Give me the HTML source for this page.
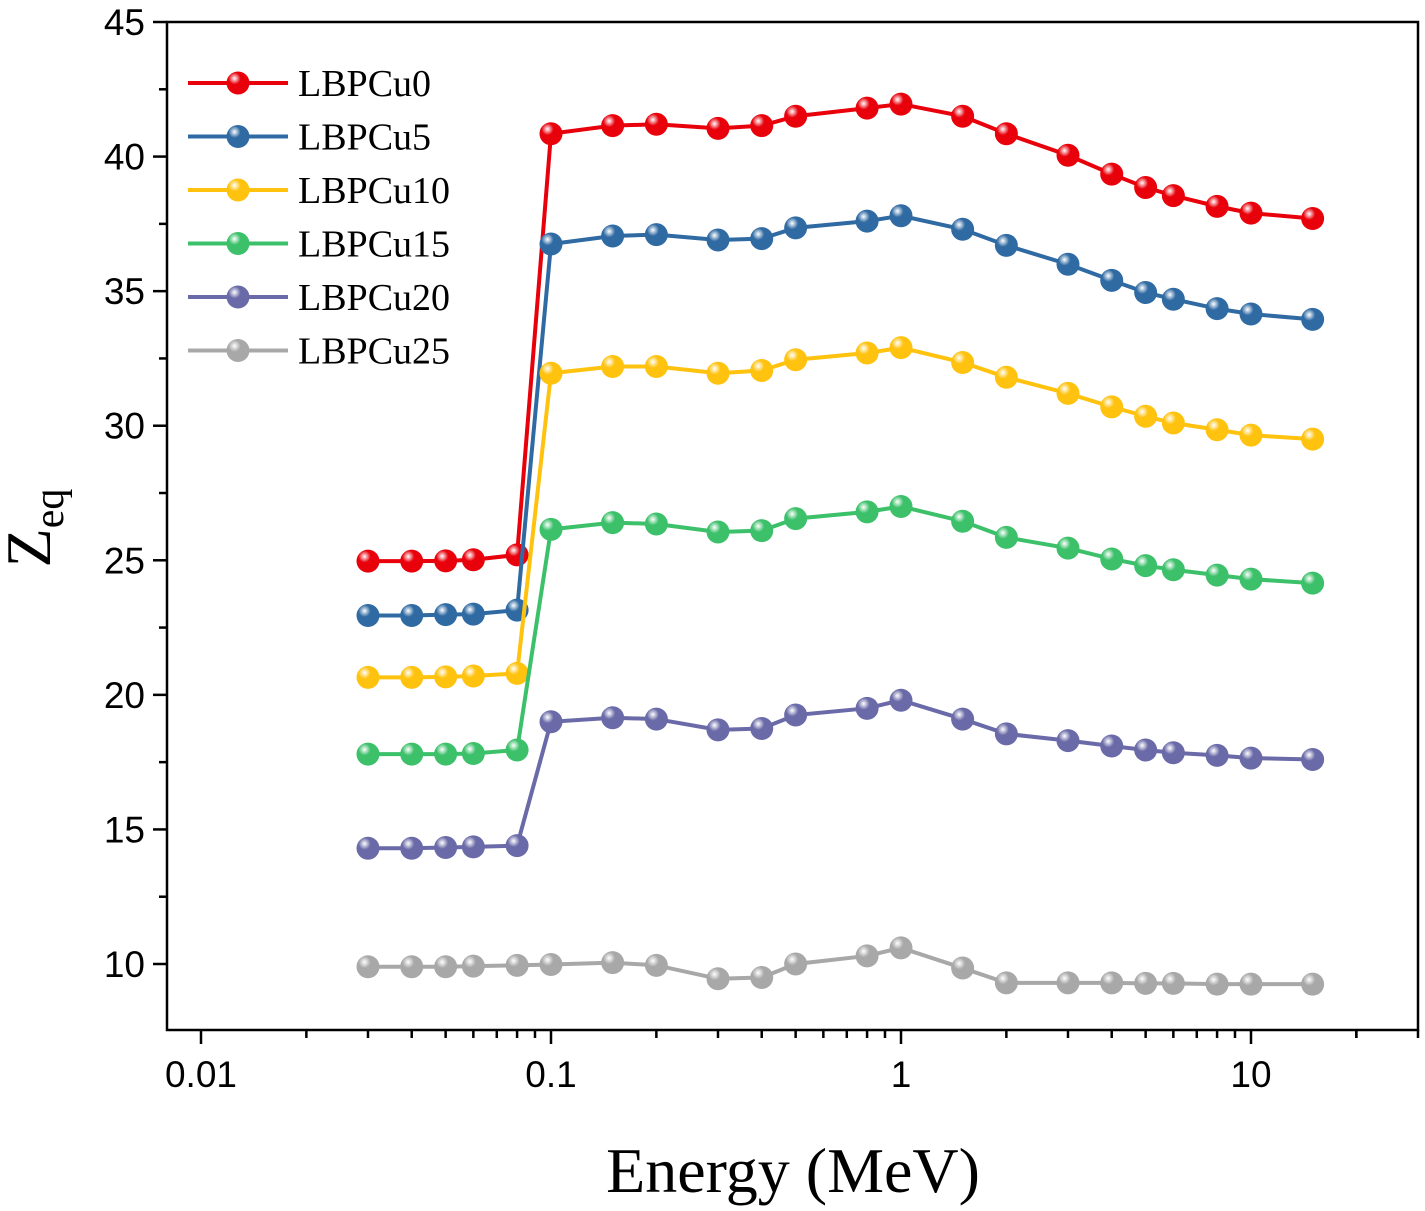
<!DOCTYPE html>
<html><head><meta charset="utf-8"><style>
body{margin:0;background:#fff}
svg{display:block}
.tk{font-family:"Liberation Sans",sans-serif;font-size:37px;fill:#000}
.lg{font-family:"Liberation Serif",serif;font-size:38px;fill:#000}
</style></head><body>
<svg id="chart" width="1425" height="1211" xmlns="http://www.w3.org/2000/svg">
<defs>
</defs>
</svg>
<script>
const energies=[0.03,0.04,0.05,0.06,0.08,0.1,0.15,0.2,0.3,0.4,0.5,0.8,1,1.5,2,3,4,5,6,8,10,15];
const seriesNames=["LBPCu0","LBPCu5","LBPCu10","LBPCu15","LBPCu20","LBPCu25"];
const cu0=[24.97,24.97,24.98,25.02,25.2,40.85,41.15,41.2,41.05,41.15,41.5,41.8,41.95,41.5,40.85,40.05,39.35,38.85,38.55,38.15,37.9,37.7];
const cu5=[22.95,22.95,22.98,23.0,23.15,36.75,37.05,37.1,36.9,36.95,37.35,37.6,37.8,37.3,36.7,36.0,35.4,34.95,34.7,34.35,34.15,33.95];
const cu10=[20.65,20.65,20.67,20.7,20.8,31.95,32.2,32.2,31.95,32.05,32.45,32.7,32.9,32.35,31.8,31.2,30.7,30.35,30.1,29.85,29.65,29.5];
const cu15=[17.8,17.8,17.8,17.82,17.95,26.15,26.4,26.35,26.05,26.1,26.55,26.8,27.0,26.45,25.85,25.45,25.05,24.8,24.65,24.45,24.3,24.15];
const cu20=[14.3,14.3,14.33,14.35,14.4,19.0,19.15,19.1,18.7,18.75,19.25,19.5,19.8,19.1,18.55,18.3,18.1,17.95,17.85,17.75,17.65,17.6];
const cu25=[9.9,9.9,9.9,9.92,9.95,9.98,10.05,9.95,9.45,9.5,10.0,10.3,10.6,9.85,9.3,9.3,9.3,9.28,9.28,9.25,9.25,9.25];
const yTicks=[10,15,20,25,30,35,40,45];
const xTicks=[0.01,0.1,1,10];
const xTickLabels=["0.01","0.1","1","10"];

const colors=["#e8000b","#2f6aa3","#ffc20e","#3cc06a","#6a6aa8","#a8a8a8"];
const allSeries=[cu0,cu5,cu10,cu15,cu20,cu25];
const L=167,R=1418,T=22,B=1030;
const X=v=>551+350*Math.log10(v/0.1);
const Y=v=>964-(v-10)*26.914;
const svg=document.getElementById('chart');
const defs=svg.querySelector('defs');
const NS="http://www.w3.org/2000/svg";
function mk(tag,attrs,parent){const e=document.createElementNS(NS,tag);for(const k in attrs)e.setAttribute(k,attrs[k]);(parent||svg).appendChild(e);return e;}
colors.forEach((c,i)=>{const g=mk('radialGradient',{id:'g'+i,cx:'0.35',cy:'0.3',r:'0.75'},defs);
mk('stop',{offset:'0','stop-color':'#fff'},g);mk('stop',{offset:'0.35','stop-color':c},g);mk('stop',{offset:'1','stop-color':c},g);});
const frame=mk('rect',{x:L,y:T,width:R-L,height:B-T,fill:'none',stroke:'#000','stroke-width':2.5});


for(let v=7.5;v<=45.01;v+=2.5){const y=Y(v);if(y>B)continue;const major=(v%5===0);
const t=mk('line',{x1:L,x2:L-(major?14:8),y1:y,y2:y,stroke:'#000','stroke-width':2.5});
}
yTicks.forEach(v=>{const t=mk('text',{x:L-22,y:Y(v)+13,'text-anchor':'end',class:'tk'});t.textContent=v;
});
for(let d=0.01;d<=10;d*=10){for(let m=1;m<=9;m++){const v=d*m;const x=X(v);if(x<L||x>R)continue;
const t=mk('line',{x1:x,x2:x,y1:B,y2:B+(m===1?14:8),stroke:'#000','stroke-width':2.5});
}}
{const x=X(20);const t=mk('line',{x1:x,x2:x,y1:B,y2:B+8,stroke:'#000','stroke-width':2.5});}
xTicks.forEach((v,i)=>{const t=mk('text',{x:X(v),y:B+57,'text-anchor':'middle',class:'tk'});t.textContent=xTickLabels[i];
});
const xt=mk('text',{x:793,y:1192,'text-anchor':'middle','font-family':'Liberation Serif,serif','font-size':64});xt.textContent='Energy (MeV)';

const yt=mk('text',{transform:'translate(50,528) rotate(-90)','text-anchor':'middle','font-family':'Liberation Serif,serif','font-size':64});
yt.innerHTML='Z<tspan font-size="42" dy="13">eq</tspan>';

allSeries.forEach((s,i)=>{const g=mk('g',{});
const pl=mk('polyline',{points:energies.map((e,j)=>X(e)+','+Y(s[j])).join(' '),fill:'none',stroke:colors[i],'stroke-width':4},g);

energies.forEach((e,j)=>{const c=mk('circle',{cx:X(e),cy:Y(s[j]),r:11.5,fill:'url(#g'+i+')'},g);
});});
seriesNames.forEach((n,i)=>{const y=83+i*53.5;const g=mk('g',{});
mk('line',{x1:188,x2:288,y1:y,y2:y,stroke:colors[i],'stroke-width':4},g);
mk('circle',{cx:238,cy:y,r:11.5,fill:'url(#g'+i+')'},g);
const t=mk('text',{x:298,y:y+13,class:'lg'},g);t.textContent=n;});
</script>
</body></html>
